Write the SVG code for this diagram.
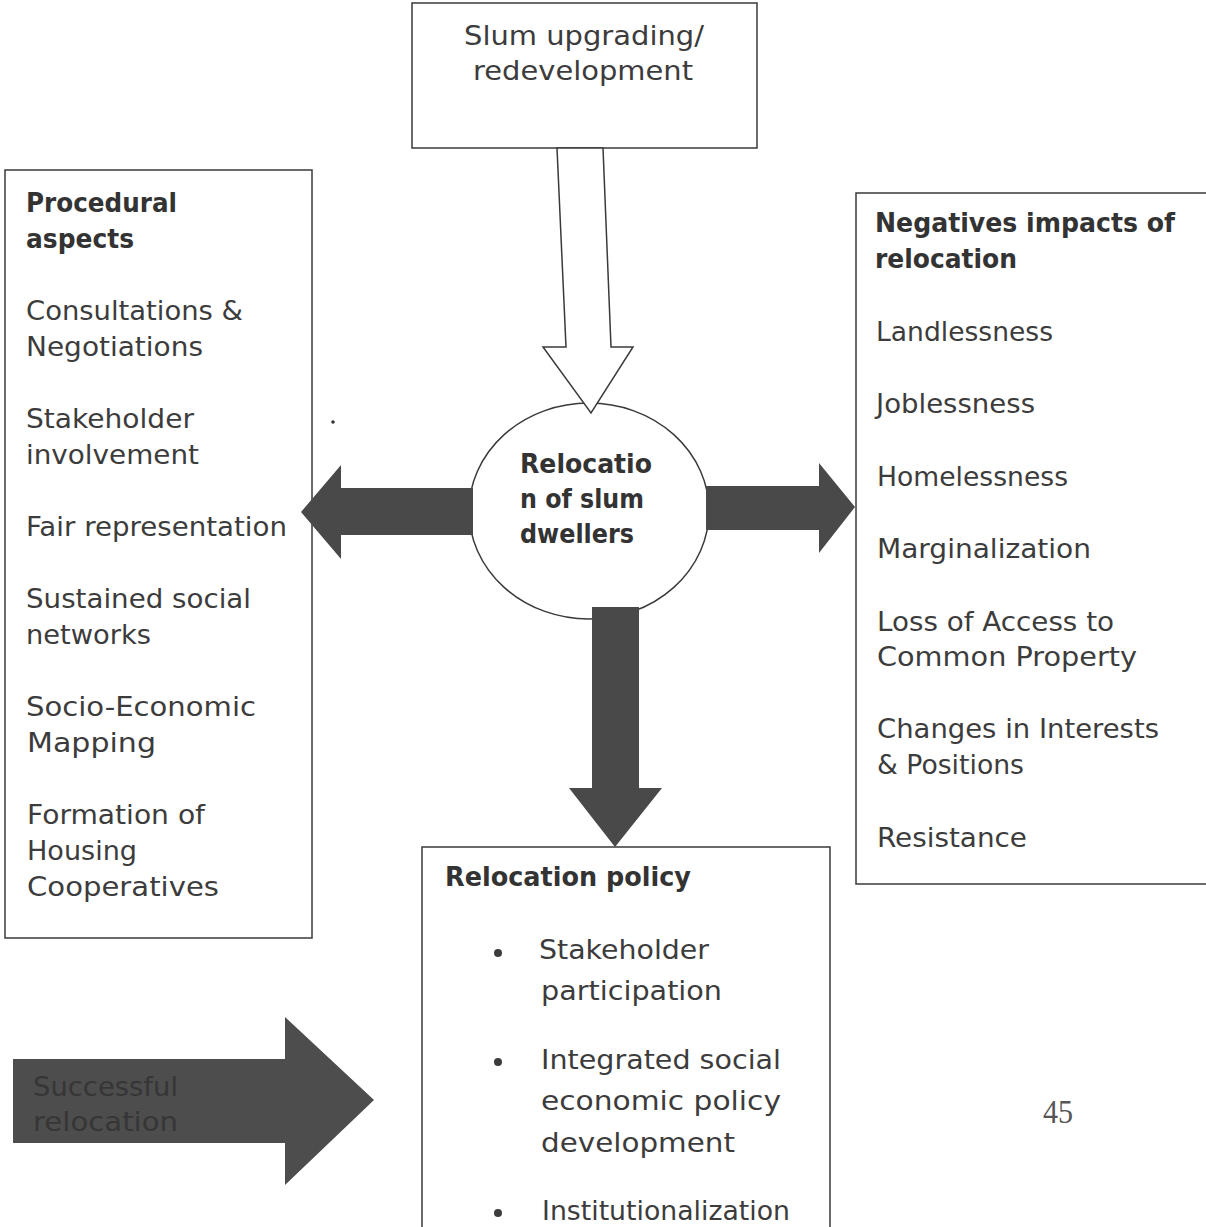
<svg xmlns="http://www.w3.org/2000/svg" width="1206" height="1227" viewBox="0 0 1206 1227">
<style>
.box{fill:#ffffff;stroke:#3a3a3a;stroke-width:1.5}
.t{font-family:"DejaVu Sans","Liberation Sans",sans-serif;font-size:27px;fill:#3c3c3c}
.b{font-family:"DejaVu Sans","Liberation Sans",sans-serif;font-size:26px;font-weight:bold;fill:#333333}
.dark{fill:#494949}
.hollow{fill:#ffffff;stroke:#3a3a3a;stroke-width:1.5;stroke-linejoin:miter}
.bul{fill:#3c3c3c}
</style>
<rect x="0" y="0" width="1206" height="1227" fill="#ffffff"/>

<g id="node-upgrading">
<rect class="box" x="412" y="3" width="345" height="145"/>
<text class="t" x="464" y="45" textLength="240" lengthAdjust="spacingAndGlyphs">Slum upgrading/</text>
<text class="t" x="473" y="80" textLength="220" lengthAdjust="spacingAndGlyphs">redevelopment</text>
</g>

<g id="node-procedural">
<rect class="box" x="5" y="170" width="307" height="768"/>
<text class="b" x="26" y="212" textLength="151" lengthAdjust="spacingAndGlyphs">Procedural</text>
<text class="b" x="26" y="248" textLength="108" lengthAdjust="spacingAndGlyphs">aspects</text>
<text class="t" x="26" y="320" textLength="217" lengthAdjust="spacingAndGlyphs">Consultations &amp;</text>
<text class="t" x="26" y="356" textLength="177" lengthAdjust="spacingAndGlyphs">Negotiations</text>
<text class="t" x="26" y="428" textLength="168" lengthAdjust="spacingAndGlyphs">Stakeholder</text>
<text class="t" x="26" y="464" textLength="173" lengthAdjust="spacingAndGlyphs">involvement</text>
<text class="t" x="26" y="536" textLength="261" lengthAdjust="spacingAndGlyphs">Fair representation</text>
<text class="t" x="26" y="608" textLength="225" lengthAdjust="spacingAndGlyphs">Sustained social</text>
<text class="t" x="26" y="644" textLength="125" lengthAdjust="spacingAndGlyphs">networks</text>
<text class="t" x="26" y="716" textLength="230" lengthAdjust="spacingAndGlyphs">Socio-Economic</text>
<text class="t" x="27" y="752" textLength="129" lengthAdjust="spacingAndGlyphs">Mapping</text>
<text class="t" x="27" y="824" textLength="178" lengthAdjust="spacingAndGlyphs">Formation of</text>
<text class="t" x="27" y="860" textLength="110" lengthAdjust="spacingAndGlyphs">Housing</text>
<text class="t" x="27" y="896" textLength="192" lengthAdjust="spacingAndGlyphs">Cooperatives</text>
<circle cx="333" cy="422" r="1.8" fill="#333333"/>
</g>

<g id="node-negatives">
<rect class="box" x="856" y="193" width="360" height="691"/>
<text class="b" x="875" y="232" textLength="300" lengthAdjust="spacingAndGlyphs">Negatives impacts of</text>
<text class="b" x="875" y="268" textLength="142" lengthAdjust="spacingAndGlyphs">relocation</text>
<text class="t" x="876" y="341" textLength="177" lengthAdjust="spacingAndGlyphs">Landlessness</text>
<text class="t" x="876" y="413" textLength="159" lengthAdjust="spacingAndGlyphs">Joblessness</text>
<text class="t" x="877" y="486" textLength="191" lengthAdjust="spacingAndGlyphs">Homelessness</text>
<text class="t" x="877" y="558" textLength="214" lengthAdjust="spacingAndGlyphs">Marginalization</text>
<text class="t" x="877" y="631" textLength="237" lengthAdjust="spacingAndGlyphs">Loss of Access to</text>
<text class="t" x="877" y="666" textLength="260" lengthAdjust="spacingAndGlyphs">Common Property</text>
<text class="t" x="877" y="738" textLength="282" lengthAdjust="spacingAndGlyphs">Changes in Interests</text>
<text class="t" x="877" y="774" textLength="147" lengthAdjust="spacingAndGlyphs">&amp; Positions</text>
<text class="t" x="877" y="847" textLength="150" lengthAdjust="spacingAndGlyphs">Resistance</text>
</g>

<g id="node-policy">
<rect class="box" x="422" y="847" width="408" height="400"/>
<text class="b" x="445" y="886" textLength="246" lengthAdjust="spacingAndGlyphs">Relocation policy</text>
<circle class="bul" cx="498" cy="953" r="4"/>
<text class="t" x="539" y="959" textLength="170" lengthAdjust="spacingAndGlyphs">Stakeholder</text>
<text class="t" x="541" y="1000" textLength="181" lengthAdjust="spacingAndGlyphs">participation</text>
<circle class="bul" cx="498" cy="1062" r="4"/>
<text class="t" x="541" y="1069" textLength="240" lengthAdjust="spacingAndGlyphs">Integrated social</text>
<text class="t" x="541" y="1110" textLength="240" lengthAdjust="spacingAndGlyphs">economic policy</text>
<text class="t" x="541" y="1152" textLength="194" lengthAdjust="spacingAndGlyphs">development</text>
<circle class="bul" cx="498" cy="1213" r="4"/>
<text class="t" x="542" y="1220" textLength="248" lengthAdjust="spacingAndGlyphs">Institutionalization</text>
</g>

<g id="node-relocation">
<ellipse cx="589" cy="511" rx="120" ry="108" fill="#ffffff" stroke="#3a3a3a" stroke-width="1.5"/>
<text class="b" x="520" y="473" textLength="132" lengthAdjust="spacingAndGlyphs">Relocatio</text>
<text class="b" x="520" y="508" textLength="124" lengthAdjust="spacingAndGlyphs">n of slum</text>
<text class="b" x="520" y="543" textLength="114" lengthAdjust="spacingAndGlyphs">dwellers</text>
</g>

<g id="connectors">
<polygon class="hollow" points="557,148 603,148 611,347 633,347 591,413 543,347 566,347"/>
<polygon class="dark" points="473,488 341,488 341,465 301,512 341,559 341,535 473,535"/>
<polygon class="dark" points="706,486 819,486 819,463 855,507 819,553 819,530 706,530"/>
<polygon class="dark" points="592,607 639,607 639,788 662,788 615,847 569,788 592,788"/>
</g>

<g id="node-successful">
<polygon fill="#4d4d4d" points="13,1059 285,1059 285,1017 374,1100 285,1185 285,1143 13,1143"/>
<text x="33" y="1096" font-family="DejaVu Sans, Liberation Sans, sans-serif" font-size="27" fill="#363636" textLength="145" lengthAdjust="spacingAndGlyphs">Successful</text>
<text x="33" y="1131" font-family="DejaVu Sans, Liberation Sans, sans-serif" font-size="27" fill="#363636" textLength="145" lengthAdjust="spacingAndGlyphs">relocation</text>
</g>

<text id="page-number" x="1043" y="1123" font-family="Liberation Serif, serif" font-size="34" fill="#555555" textLength="30" lengthAdjust="spacingAndGlyphs">45</text>
</svg>
